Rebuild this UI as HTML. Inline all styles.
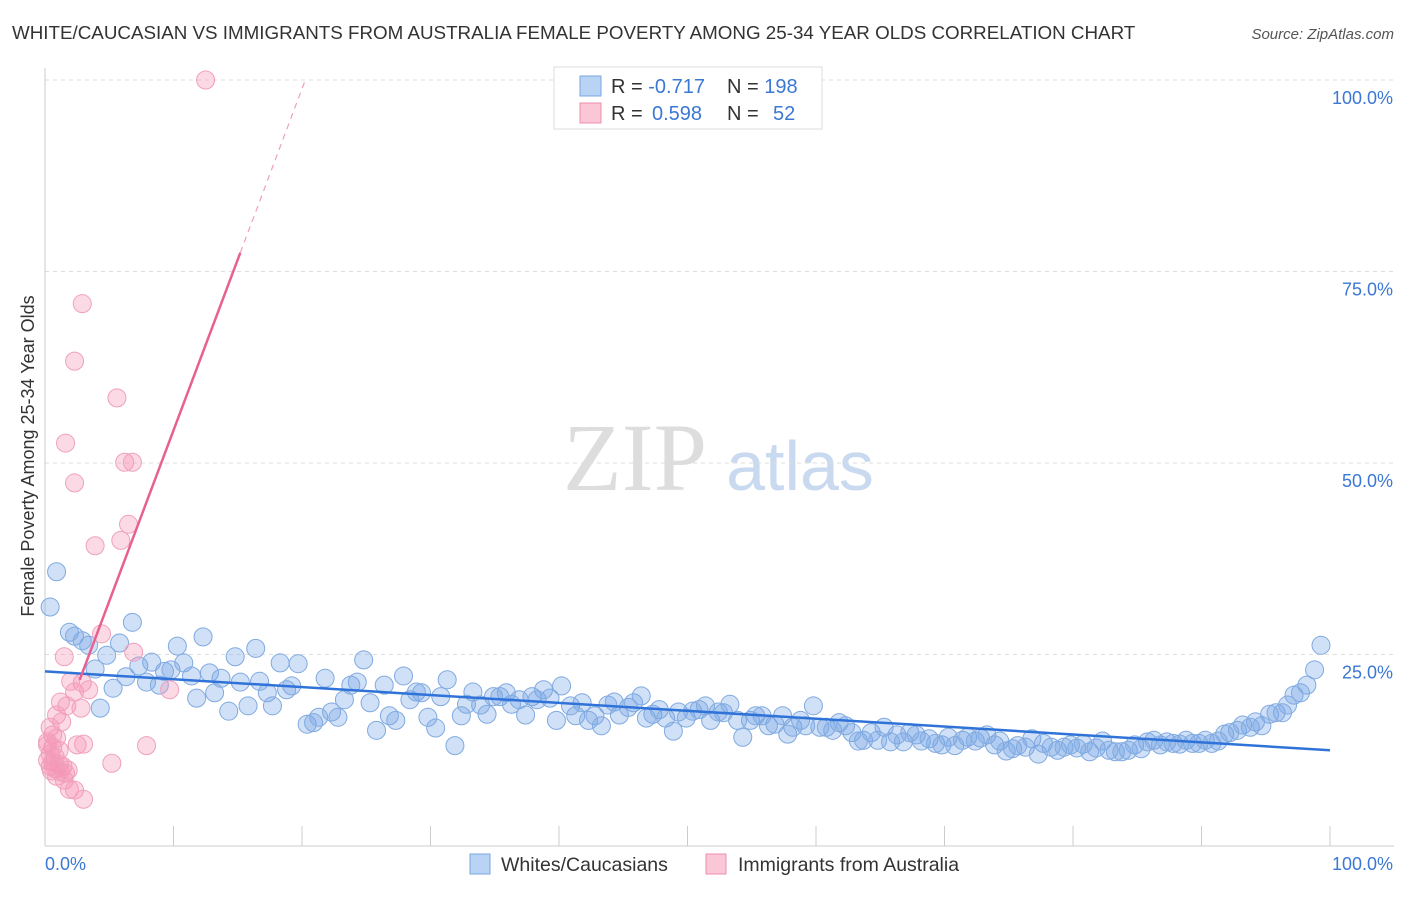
<!DOCTYPE html>
<html><head><meta charset="utf-8"><style>
body{margin:0;background:#fff;font-family:"Liberation Sans",sans-serif;}
svg text{font-family:"Liberation Sans",sans-serif;}
</style></head><body>
<svg id="chart" width="1406" height="892">
<text x="12" y="39" font-size="18.8" fill="#333">WHITE/CAUCASIAN VS IMMIGRANTS FROM AUSTRALIA FEMALE POVERTY AMONG 25-34 YEAR OLDS CORRELATION CHART</text>
<text x="1394" y="39" font-size="15" fill="#555" text-anchor="end" font-style="italic">Source: ZipAtlas.com</text>
<g>
<text x="635" y="490" font-size="96" fill="#ddd" text-anchor="middle" style="font-family:'Liberation Serif',serif">ZIP</text>
<text x="800" y="490" font-size="70" fill="#c9d9ef" text-anchor="middle">atlas</text>
</g>
<g id="grid"></g>
<g id="axes"></g>
<g id="pts"></g>
<g id="trend"></g>
<text transform="translate(34,456) rotate(-90)" font-size="18" fill="#333" text-anchor="middle">Female Poverty Among 25-34 Year Olds</text>
<g>
<rect x="554" y="67" width="268" height="62" fill="#fff" stroke="#ddd"/>
<rect x="580" y="76" width="21" height="20" fill="#b9d3f5" stroke="#7aa6e0"/>
<rect x="580" y="103" width="21" height="20" fill="#fbc7d6" stroke="#ee8fae"/>
<text x="611" y="93" font-size="20" fill="#333">R = <tspan fill="#3a78d4">-0.717</tspan><tspan x="727">N = </tspan><tspan fill="#3a78d4">198</tspan></text>
<text x="611" y="120" font-size="20" fill="#333">R = <tspan x="652" fill="#3a78d4">0.598</tspan><tspan x="727">N = </tspan><tspan x="773" fill="#3a78d4">52</tspan></text>
</g>
<g>
<rect x="470" y="854" width="20" height="20" fill="#b9d3f5" stroke="#7aa6e0"/>
<text x="501" y="871" font-size="19.5" fill="#333">Whites/Caucasians</text>
<rect x="706" y="854" width="20" height="20" fill="#fbc7d6" stroke="#ee8fae"/>
<text x="738" y="871" font-size="19.5" fill="#333">Immigrants from Australia</text>
</g>
</svg>
<script>
const blueX=[0.4,0.9,1.9,2.3,2.9,3.4,3.9,4.3,4.8,5.3,5.8,6.3,6.8,7.3,7.9,8.3,8.9,9.3,9.8,10.3,10.8,11.4,11.8,12.3,12.8,13.2,13.7,14.3,14.8,15.2,15.8,16.4,16.7,17.3,17.7,18.3,18.8,19.2,19.7,20.4,20.9,21.3,21.8,22.3,22.8,23.3,23.8,24.3,24.8,25.3,25.8,26.4,26.8,27.3,27.9,28.4,28.9,29.3,29.8,30.4,30.8,31.3,31.9,32.4,32.8,33.3,33.9,34.4,34.9,35.4,35.9,36.3,36.9,37.4,37.9,38.3,38.8,39.3,39.8,40.2,40.9,41.3,41.8,42.3,42.8,43.3,43.8,44.3,44.7,45.4,45.8,46.4,46.8,47.3,47.8,48.3,48.9,49.3,49.9,50.4,50.9,51.4,51.8,52.4,52.8,53.3,53.9,54.3,54.9,55.3,55.8,56.3,56.8,57.4,57.8,58.2,58.8,59.2,59.8,60.3,60.8,61.3,61.8,62.3,62.8,63.3,63.7,64.3,64.8,65.3,65.8,66.3,66.8,67.3,67.8,68.2,68.8,69.3,69.8,70.3,70.8,71.4,71.8,72.4,72.8,73.3,73.9,74.3,74.8,75.3,75.7,76.3,76.8,77.3,77.7,78.3,78.8,79.3,79.8,80.3,80.8,81.3,81.8,82.3,82.8,83.3,83.8,84.3,84.8,85.3,85.8,86.3,86.8,87.3,87.8,88.3,88.8,89.3,89.8,90.3,90.8,91.3,91.8,92.2,92.8,93.2,93.8,94.2,94.7,95.3,95.8,96.3,96.7,97.2,97.7,98.2,98.8,99.3];
const blueY=[31.2,35.8,27.9,27.4,26.8,26.2,23.1,18.0,24.9,20.6,26.5,22.1,29.2,23.5,21.4,24.0,21.0,22.8,23.0,26.1,23.9,22.2,19.3,27.3,22.6,20.0,21.9,17.6,24.7,21.4,18.3,25.8,21.5,20.0,18.3,23.9,20.4,20.9,23.8,15.9,16.1,16.8,21.9,17.5,16.8,19.1,21.0,21.4,24.3,18.7,15.1,21.0,17.0,16.4,22.2,19.1,20.1,20.0,16.8,15.4,19.5,21.7,13.1,17.0,18.5,20.1,18.4,17.2,19.5,19.5,20.0,18.5,19.1,17.1,19.5,19.1,20.4,19.3,16.4,20.9,18.3,17.0,18.7,16.4,17.0,15.7,18.4,18.8,17.1,18.1,18.7,19.6,16.7,17.2,17.8,16.7,15.0,17.5,16.7,17.6,17.8,18.3,16.4,17.5,17.4,18.5,16.4,14.2,16.4,17.0,17.0,15.7,15.9,17.0,14.6,15.5,16.4,15.7,18.3,15.5,15.5,15.1,16.1,15.7,14.8,13.7,13.8,14.8,13.8,15.5,13.6,14.5,13.6,14.8,14.5,13.7,14.0,13.4,13.2,14.2,13.1,13.8,14.2,13.7,14.1,14.5,13.2,13.7,12.4,12.7,13.1,12.9,14.0,12.0,13.4,12.9,12.5,12.9,13.2,12.8,13.3,12.3,12.8,13.7,12.5,12.3,12.3,12.5,13.2,12.7,13.6,13.8,13.2,13.6,13.4,13.3,13.8,13.4,13.4,13.8,13.4,13.7,14.6,14.8,15.1,15.8,15.5,16.2,15.7,17.2,17.4,17.4,18.4,19.7,20.0,21.0,23.0,26.2];
const pinkX=[12.5,2.9,2.3,5.6,1.6,6.2,6.8,2.3,6.5,5.9,3.9,4.4,6.9,1.5,2.9,2.0,2.3,3.4,9.7,1.2,1.7,2.8,0.9,1.3,0.4,0.6,0.9,0.2,2.5,3.0,7.9,0.6,1.1,0.4,0.8,0.2,0.6,1.1,1.4,0.4,0.8,1.8,5.2,0.9,1.5,1.9,2.3,3.0,0.2,0.5,1.2,1.6];
const pinkY=[100,70.8,63.3,58.5,52.6,50.1,50.1,47.4,42.0,39.9,39.2,27.7,25.3,24.7,21.3,21.5,20.1,20.4,20.4,18.8,18.3,18.0,17.1,16.2,15.5,14.5,14.1,13.6,13.2,13.3,13.1,12.9,12.5,12.0,11.6,11.2,11.0,10.7,10.4,10.4,10.1,9.9,10.8,9.1,8.6,7.4,7.3,6.1,13.2,9.8,9.7,9.5];
const blueTrend=[22.8,12.5];
const pinkSlope=4.46, pinkIntercept=9.66;
const yTicks=[25,50,75,100];
const xTickLabels=["0.0%","100.0%"];

const NS="http://www.w3.org/2000/svg";
const X0=45,X1=1330,Y0=846,YS=7.66;
const sx=v=>X0+(X1-X0)*v/100, sy=v=>Y0-v*YS;
function mk(tag,attrs,parent){const e=document.createElementNS(NS,tag);for(const k in attrs)e.setAttribute(k,attrs[k]);parent.appendChild(e);return e;}
const grid=document.getElementById('grid'),axes=document.getElementById('axes'),pts=document.getElementById('pts'),trend=document.getElementById('trend');
yTicks.forEach(t=>{
  const l=mk('line',{x1:X0,x2:1394,y1:sy(t),y2:sy(t),stroke:'#ddd','stroke-dasharray':'4,4'},grid);
  
  
  const tx=mk('text',{x:1393,y:sy(t)+24,'font-size':18,fill:'#3a78d4','text-anchor':'end'},axes);
  tx.textContent=t.toFixed(1)+'%';
  
  
});
const ya=mk('line',{x1:X0,x2:X0,y1:68,y2:Y0,stroke:'#ccc'},axes);


const xa=mk('line',{x1:X0,x2:1394,y1:Y0,y2:Y0,stroke:'#ccc'},axes);


for(let i=0;i<=10;i++){
  const t=mk('line',{x1:sx(i*10),x2:sx(i*10),y1:826,y2:Y0,stroke:'#ccc'},axes);
  
  
}
const xl0=mk('text',{x:45,y:870,'font-size':18,fill:'#3a78d4'},axes);xl0.textContent=xTickLabels[0];


const xl1=mk('text',{x:1393,y:870,'font-size':18,fill:'#3a78d4','text-anchor':'end'},axes);xl1.textContent=xTickLabels[1];


blueX.forEach((x,i)=>{
  const c=mk('circle',{cx:sx(x),cy:sy(blueY[i]),r:9,fill:'rgba(120,165,230,0.35)',stroke:'#80aae0','stroke-width':1},pts);
  
  
});
pinkX.forEach((x,i)=>{
  const c=mk('circle',{cx:sx(x),cy:sy(pinkY[i]),r:9,fill:'rgba(245,150,180,0.35)',stroke:'#f0a0bc','stroke-width':1},pts);
  
  
});
const bt=mk('line',{x1:sx(0),y1:sy(blueTrend[0]),x2:sx(100),y2:sy(blueTrend[1]),stroke:'#2f73d9','stroke-width':2.5},trend);


const pf=x=>pinkSlope*x+pinkIntercept;
const ps=mk('line',{x1:sx(2.7),y1:sy(pf(2.7)),x2:sx(15.2),y2:sy(pf(15.2)),stroke:'#e8608f','stroke-width':2.5},trend);


const xEnd=(100-pinkIntercept)/pinkSlope;
const pd=mk('line',{x1:sx(15.2),y1:sy(pf(15.2)),x2:sx(xEnd),y2:sy(100),stroke:'#eea0bb','stroke-width':1.2,'stroke-dasharray':'6,5'},trend);


</script>
</body></html>
